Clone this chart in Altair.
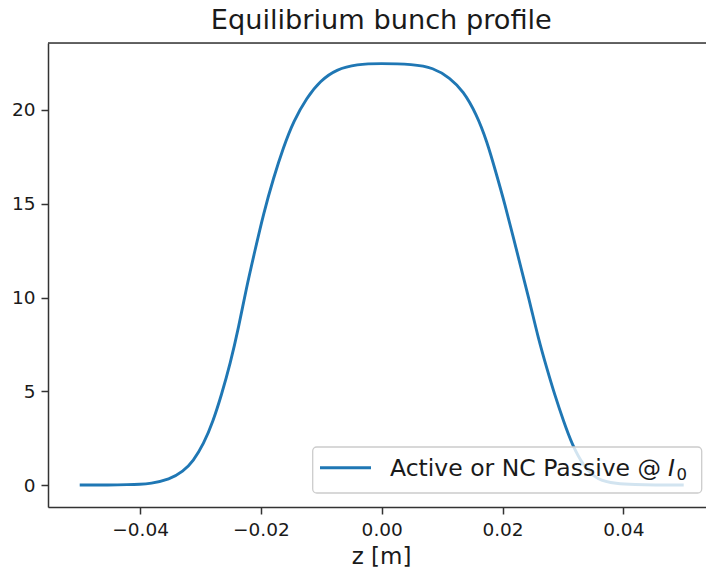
import altair as alt
import pandas as pd

# --- data ---
z_values = [-0.0500, -0.0450, -0.0420, -0.0400, -0.0384, -0.0351, -0.0329, -0.0312,
            -0.0295, -0.0279, -0.0265, -0.0251, -0.0237, -0.0224, -0.0210, -0.0196,
            -0.0179, -0.0163, -0.0146, -0.0124, -0.0102, -0.0075, -0.0041, -0.0003,
            0.0052, 0.0085, 0.0113, 0.0135, 0.0157, 0.0174, 0.0190, 0.0204,
            0.0218, 0.0232, 0.0246, 0.0259, 0.0273, 0.0287, 0.0301, 0.0315,
            0.0334, 0.0357, 0.0388, 0.0420, 0.0450, 0.0500]
profile = [0.00, 0.00, 0.02, 0.04, 0.07, 0.30, 0.71, 1.28,
           2.17, 3.41, 4.84, 6.44, 8.39, 10.52, 12.48, 14.44,
           16.39, 17.99, 19.41, 20.66, 21.55, 22.17, 22.44, 22.49,
           22.44, 22.26, 21.72, 21.01, 19.77, 18.35, 16.57, 14.97,
           13.19, 11.41, 9.64, 7.86, 6.26, 4.75, 3.41, 2.17,
           1.01, 0.25, 0.07, 0.02, 0.00, 0.00]
x_ticks = [-0.04, -0.02, 0.00, 0.02, 0.04]
y_ticks = [0, 5, 10, 15, 20]
title_text = "Equilibrium bunch profile"
x_title = "z [m]"
legend_text = "Active or NC Passive @"
legend_italic = "I"
legend_sub = "0"

df = pd.DataFrame({"z": z_values, "profile": profile})
one = pd.DataFrame({"k": [0]})  # single row for decorations

FONT = "DejaVu Sans"
W, H = 658, 464
BLUE = "#1f77b4"
TXT = "#1a1a1a"
SPINE = "#333333"

line = alt.Chart(df).mark_line(color=BLUE, strokeWidth=2.9, interpolate="basis").encode(
    x=alt.X("z:Q",
            scale=alt.Scale(domain=[-0.05525, 0.05369], nice=False, zero=False),
            axis=alt.Axis(values=x_ticks, title=x_title, grid=False,
                          labelExpr="replace(format(datum.value, '.2f'), '-', '\u2212')",
                          labelFont=FONT, labelFontSize=18.5, labelColor=TXT,
                          labelBaseline="alphabetic", labelPadding=21,
                          tickSize=7, tickWidth=1.5, tickColor=SPINE,
                          domainColor=SPINE, domainWidth=1.5,
                          titleFont=FONT, titleFontSize=23, titleFontWeight="normal",
                          titleColor=TXT, titleX=333, titleY=56, titleAlign="center",
                          titleBaseline="alphabetic")),
    y=alt.Y("profile:Q",
            scale=alt.Scale(domain=[-1.173, 23.573], nice=False, zero=False),
            axis=alt.Axis(values=y_ticks, title=None, grid=False, format="d",
                          labelFont=FONT, labelFontSize=18.5, labelColor=TXT,
                          labelPadding=6, tickSize=7, tickWidth=1.5, tickColor=SPINE,
                          domainColor=SPINE, domainWidth=1.5)),
)

top_spine = alt.Chart(one).mark_rule(color=SPINE, strokeWidth=1.5).encode(
    x=alt.value(0), x2=alt.value(W), y=alt.value(0)
)

title_mark = alt.Chart(one).mark_text(
    text=title_text, align="center", baseline="alphabetic", font=FONT,
    fontSize=27.2, color=TXT
).encode(x=alt.value(333.3), y=alt.value(-13.7))

legend_box = alt.Chart(one).mark_rect(
    fill="white", fillOpacity=0.8, stroke="#cccccc", strokeWidth=1.3, cornerRadius=4
).encode(x=alt.value(264.7), x2=alt.value(653.7), y=alt.value(404), y2=alt.value(450))

legend_line = alt.Chart(one).mark_rule(color=BLUE, strokeWidth=2.9).encode(
    x=alt.value(272), x2=alt.value(323), y=alt.value(424.7)
)

legend_label = alt.Chart(one).mark_text(
    text=legend_text, align="left", baseline="alphabetic", font=FONT,
    fontSize=23.5, color=TXT
).encode(x=alt.value(342), y=alt.value(433))

legend_i = alt.Chart(one).mark_text(
    text=legend_italic, align="left", baseline="alphabetic", font=FONT,
    fontSize=23.5, fontStyle="italic", color=TXT
).encode(x=alt.value(620), y=alt.value(433))

legend_0 = alt.Chart(one).mark_text(
    text=legend_sub, align="left", baseline="alphabetic", font=FONT,
    fontSize=16.5, color=TXT
).encode(x=alt.value(628.5), y=alt.value(436.5))

chart = alt.layer(line, top_spine, title_mark, legend_box, legend_line,
                  legend_label, legend_i, legend_0).properties(
    width=W, height=H,
    autosize=alt.AutoSizeParams(type="none"),
    padding={"left": 48, "top": 43, "right": 0, "bottom": 61},
).configure_view(stroke=None).configure(background="white")

chart.save("out.html", embed_options={"renderer": "svg", "actions": False})
